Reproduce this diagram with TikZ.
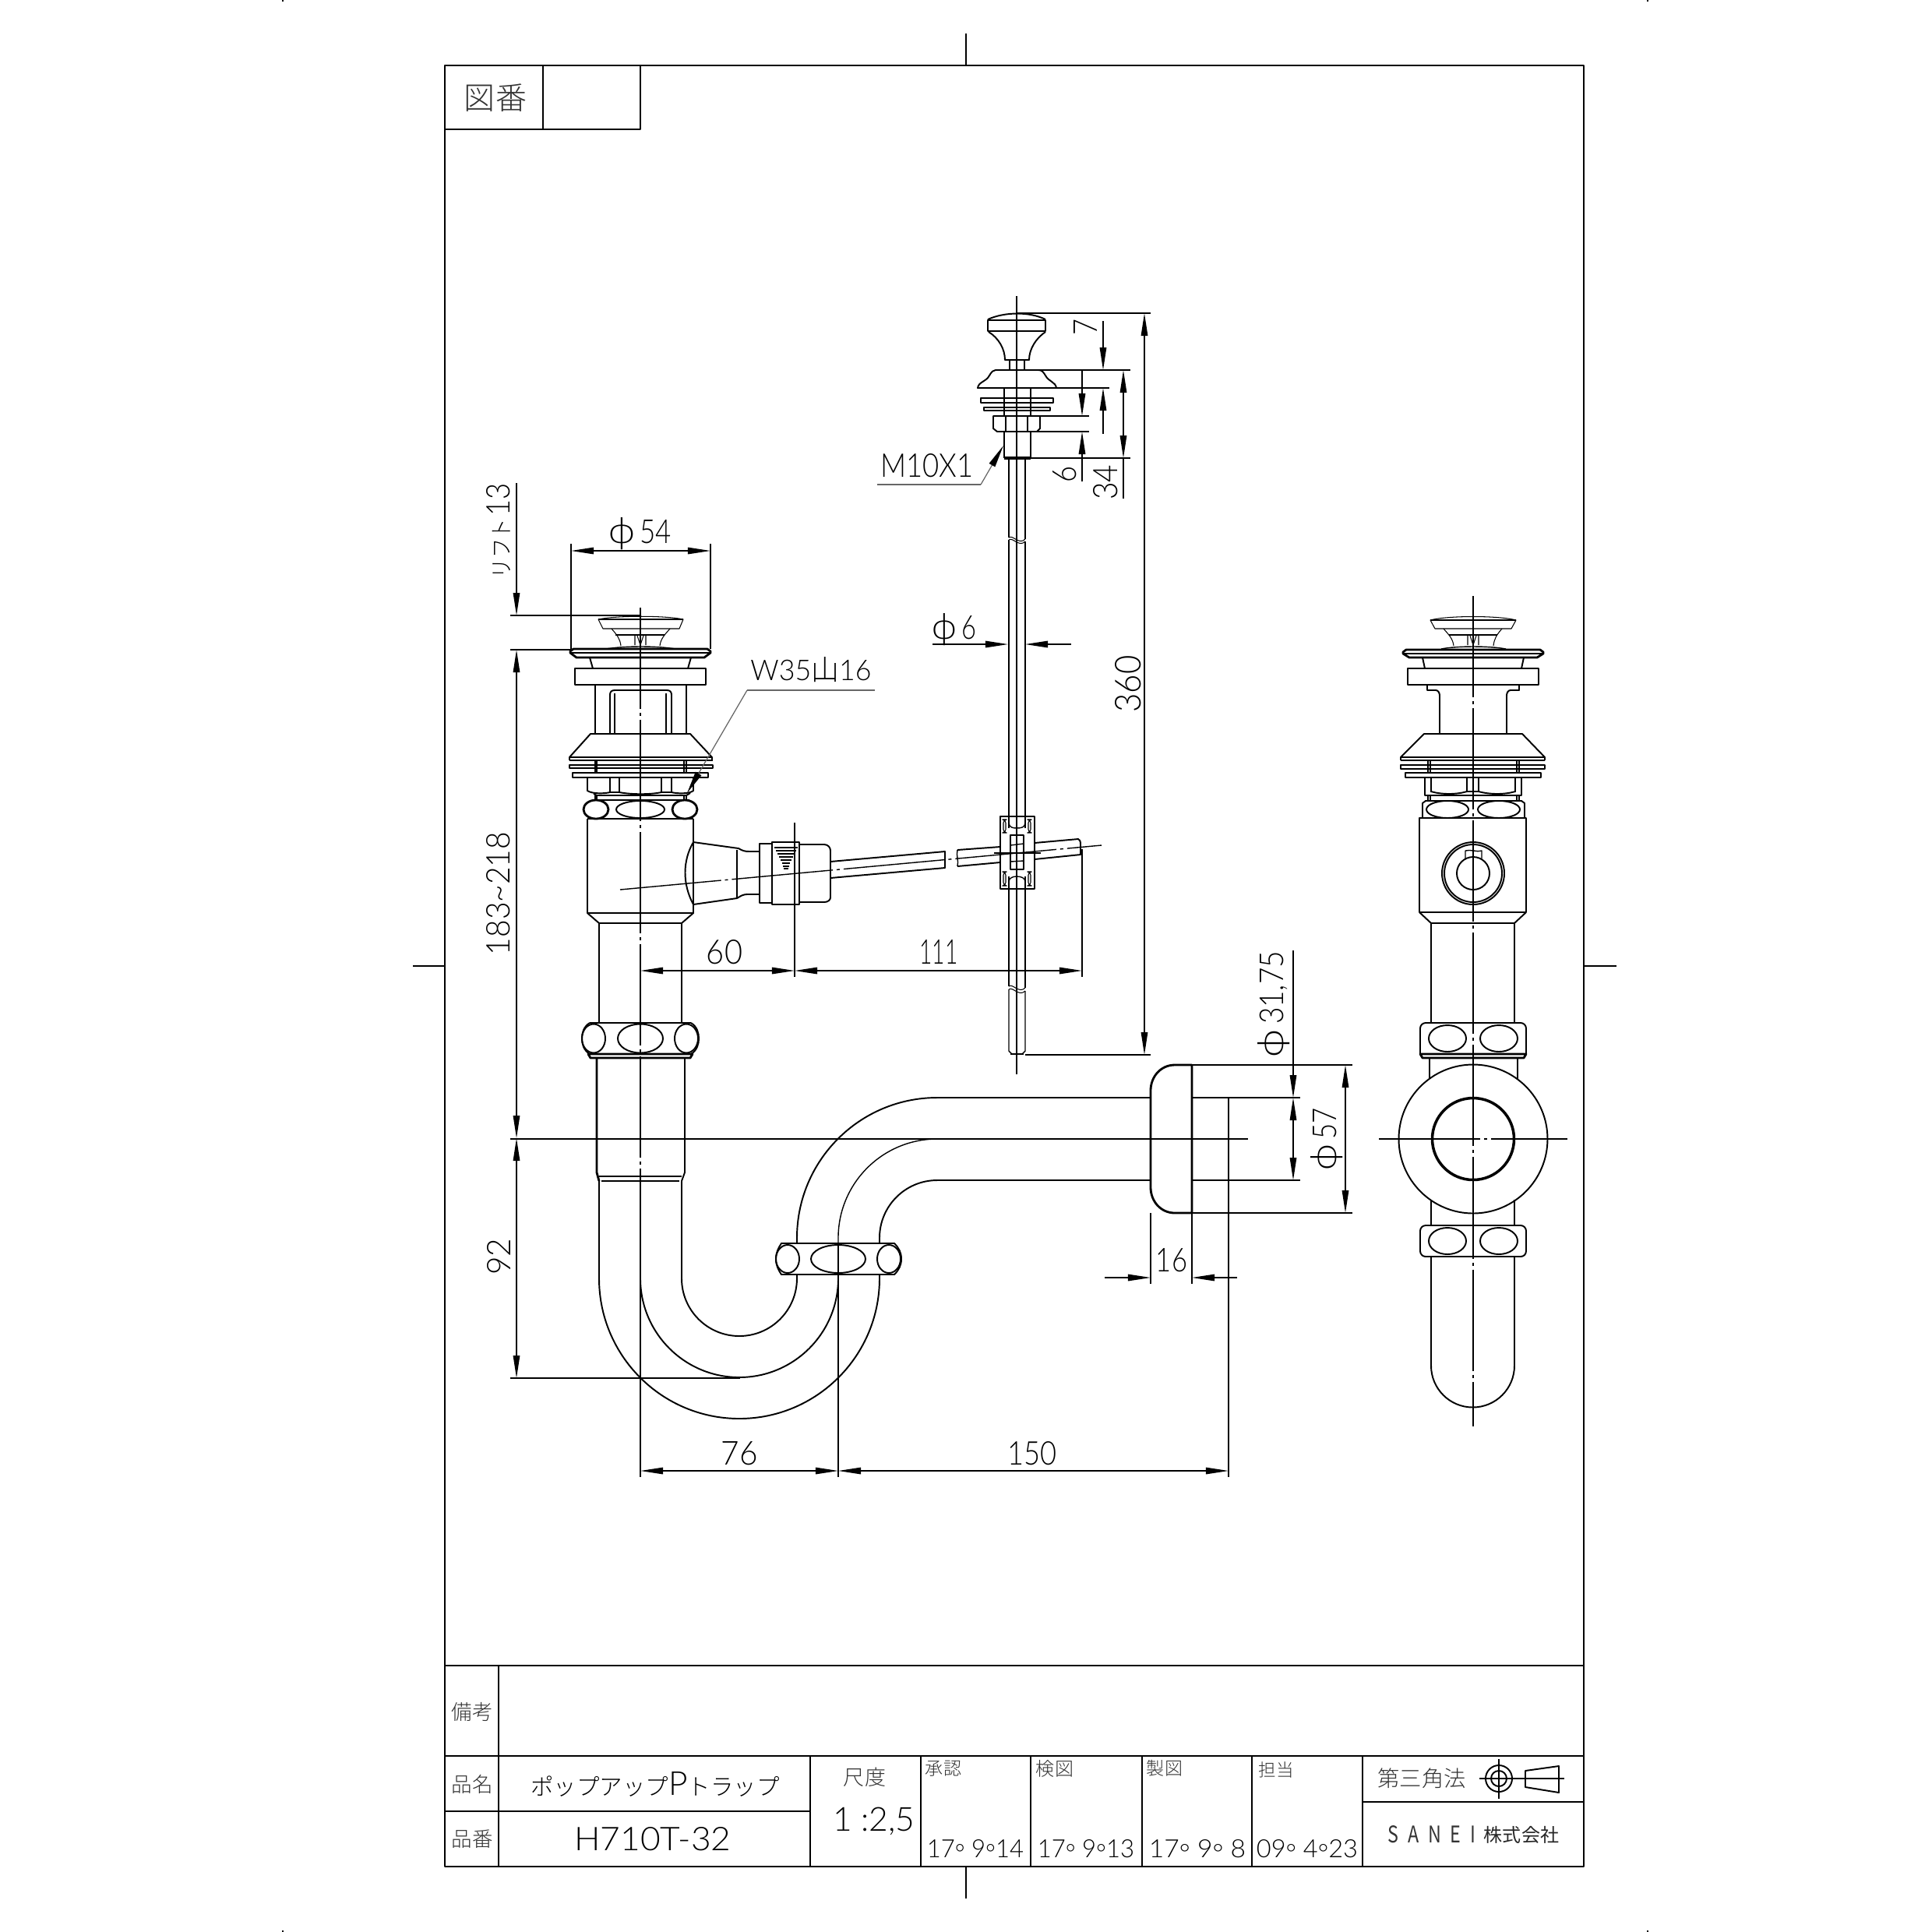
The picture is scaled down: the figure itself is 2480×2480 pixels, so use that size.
\documentclass[tikz,border=0pt]{standalone}
\usepackage{graphicx}
\usepackage{fontspec}
\usetikzlibrary{arrows.meta}
\setmainfont{Lato Light}
\newfontfamily\cjk{Noto Sans CJK JP Light}
\newfontfamily\cjkr{Noto Sans CJK JP}
\newcommand\tw[2]{\resizebox{#1cm}{!}{#2}}
\newcommand\twh[3]{\resizebox{#1cm}{#2cm}{#3}}
\newcommand\jp[1]{{\cjk #1}}
\newcommand\dia{\scalebox{1.4}[1.1]{ϕ}}
\newcommand\dg{\raisebox{-0.35ex}{°}}
\tikzset{
 tk/.style={line width=0.8pt,line join=round},
 md/.style={line width=0.55pt,line join=round},
 th/.style={line width=0.4pt,line join=round},
 hl/.style={line width=0.3pt,line join=round},
 ax/.style={line width=0.4pt,dash pattern=on 1.3cm off 0.05cm on 0.04cm off 0.05cm},
 dm/.style={line width=0.4pt,>={Triangle[length=0.29cm,width=0.085cm]}},
 ld/.style={line width=0.35pt,draw=black!60,>={Triangle[length=0.29cm,width=0.085cm,color=black]}},
 lb/.style={inner sep=0pt,outer sep=0pt},
 jl/.style={inner sep=0pt,outer sep=0pt,text=black!80},
}
\begin{document}
\begin{tikzpicture}[x=0.01cm,y=-0.01cm]
\useasboundingbox (0,0) rectangle (2480,2480);
% ---------- sheet frame
\draw[tk] (571,84) rectangle (2033,2396);
\draw[tk] (571,2138) -- (2033,2138);
\draw[md] (571,166) -- (822,166) -- (822,84);
\draw[th] (697,84) -- (697,166);
\draw[th] (1240,43) -- (1240,84);
\draw[th] (1240,2396) -- (1240,2437);
\draw[th] (530,1240) -- (571,1240);
\draw[th] (2033,1240) -- (2075,1240);
\draw[th] (363,0) -- (363,2) (2115,0) -- (2115,2) (363,2478) -- (363,2480) (2115,2478) -- (2115,2480);
% title block
\draw[md] (571,2254) -- (2033,2254);
\draw[th] (640,2138) -- (640,2396);
\draw[md] (640,2325) -- (1040,2325);
\draw[th] (571,2325) -- (640,2325);
\draw[md] (1040,2254) -- (1040,2396);
\draw[th] (1182,2254) -- (1182,2396);
\draw[md] (1323,2254) -- (1323,2396) (1466,2254) -- (1466,2396) (1607,2254) -- (1607,2396) (1749,2254) -- (1749,2396);
\draw[md] (1749,2313) -- (2033,2313);
\node[jl] (zuban) at (636,126) {\tw{0.80}{\jp{図番}}};
\node[jl] (biko) at (606,2197) {\tw{0.53}{\jp{備考}}};
\node[jl] (hinmei) at (606,2290) {\tw{0.53}{\jp{品名}}};
\node[jl] (hinban) at (606,2361) {\tw{0.53}{\jp{品番}}};
\node[lb] (name) at (841,2290) {\tw{3.19}{\jp{ポップアップ}{\Large P}\jp{トラップ}}};
\node[lb] (num) at (838,2361) {\twh{2.01}{0.30}{H710T-32}};
\node[jl] (shaku) at (1110,2281) {\tw{0.54}{\jp{尺度}}};
\node[lb] (scale) at (1122,2338) {\tw{1.05}{1 :2,5}};
\node[jl] (sho) at (1211,2270) {\tw{0.46}{\jp{承認}}};
\node[jl] (ken) at (1354,2270) {\tw{0.48}{\jp{検図}}};
\node[jl] (sei) at (1495,2270) {\tw{0.46}{\jp{製図}}};
\node[jl] (tan) at (1638,2272) {\tw{0.45}{\jp{担当}}};
\node[lb] (d1) at (1252,2376) {\twh{1.24}{0.23}{17\dg\ 9\dg14}};
\node[lb] (d2) at (1394,2376) {\twh{1.24}{0.23}{17\dg\ 9\dg13}};
\node[lb] (d3) at (1537,2376) {\twh{1.24}{0.23}{17\dg\ 9\dg\ 8}};
\node[lb] (d4) at (1678,2376) {\twh{1.30}{0.23}{09\dg\ 4\dg23}};
\node[jl] (third) at (1825,2283) {\tw{1.13}{\jp{第三角法}}};
\node[lb,text=black!80] (sanei) at (1838,2355) {\twh{1.12}{0.22}{\cjkr S\hspace{0.5em}A\hspace{0.5em}N\hspace{0.5em}E\hspace{0.5em}I}};
\node[lb,text=black!85] (kk) at (1953,2355) {\tw{0.96}{{\cjkr 株式会社}}};
% third angle symbol
\draw[th] (1899,2283) -- (2008,2283) (1924,2258) -- (1924,2309);
\draw[md] (1924,2283) circle (17) (1924,2283) circle (10);
\draw[md] (1958,2273) -- (2001,2267) -- (2001,2301) -- (1958,2294) -- cycle;
% ---------- MAIN VIEW: waste assembly
\draw[ax] (822,780) -- (822,1516);
\draw[th] (822,1516) -- (822,1896);
% stopper
\draw[hl] (768,795) .. controls (790,790) and (855,790) .. (877,795) -- (872,807) -- (774,807) -- cycle;
\draw[hl] (768,795) -- (877,795);
\draw[hl] (785,807) .. controls (792,815) and (796,820) .. (797,829);
\draw[hl] (860,807) .. controls (853,815) and (848,820) .. (847,829);
\draw[hl] (790,815) -- (853,815);
\draw[hl] (815,815) -- (815,828) (829,815) -- (829,828) (818,816) -- (822,828) -- (826,816);
% flange
\draw[tk] (736,833) -- (908,833) -- (912,836) -- (912,838) -- (904,844) -- (740,844) -- (732,838) -- (732,836) -- cycle;
\draw[md] (733,838) -- (911,838);
\draw[th] (778,833) .. controls (800,829) and (845,829) .. (867,833);
\draw[md] (757,844) -- (761,858) (887,844) -- (883,858);
\draw[tk] (738,858) rectangle (906,879);
% body under stopper
\draw[tk] (764,879) -- (764,942);
\draw[md] (881,879) -- (881,942);
\draw[md] (783,942) -- (783,892) .. controls (783,888) and (785,886) .. (789,886) -- (856,886) .. controls (860,886) and (862,888) .. (862,892) -- (862,942);
\draw[md] (789,942) -- (789,890) (855,942) -- (855,890);
% cone and plates
\draw[md] (758,942) -- (886,942) -- (914,972) -- (731,972) -- cycle;
\draw[tk] (731,976) -- (915,976);
\draw[md] (731,972) -- (731,976) (914,972) -- (914,976);
\draw[md] (731,982) rectangle (915,986);
\draw[md] (735,992) rectangle (909,998);
\draw[th] (764,976) -- (764,992) (766,976) -- (766,992) (878,976) -- (878,992) (881,976) -- (881,992);
% hex nut
\draw[md] (754,998) -- (754,1015) .. controls (760,1019) and (775,1019) .. (783,1017) -- (795,1017) .. controls (810,1020) and (835,1020) .. (849,1017) -- (862,1017) .. controls (870,1019) and (885,1019) .. (890,1015) -- (890,998);
\draw[md] (783,998) -- (783,1017) (795,998) -- (795,1017) (849,998) -- (849,1017) (862,998) -- (862,1017);
\draw[md] (762,1019) -- (766,1021) -- (881,1021) -- (886,1018);
\draw[th] (764,1021) -- (764,1027) (766,1021) -- (766,1027) (878,1021) -- (878,1027) (881,1021) -- (881,1027);
% upper coupling
\draw[md] (760,1027) -- (885,1027);
\draw[tk] (754,1051) -- (890,1051);
\draw[tk] (765,1039) ellipse (16 and 12);
\draw[md] (822,1039) ellipse (31 and 11);
\draw[tk] (879,1039) ellipse (16 and 12);
% tee body
\draw[md] (754,1051) -- (754,1172) -- (769,1185) -- (875,1185) -- (890,1172) -- (890,1051);
\draw[th] (754,1172) -- (890,1172);
% side branch
\draw[md] (890,1081) .. controls (876,1105) and (876,1135) .. (890,1161);
\draw[md] (890,1081) -- (948,1089) .. controls (953,1092) and (956,1093) .. (962,1093) -- (975,1093);
\draw[md] (890,1161) -- (946,1153) .. controls (951,1150) and (954,1148) .. (959,1148) -- (975,1148);
\draw[md] (946,1091) -- (946,1153);
\draw[tk] (975,1083) rectangle (991,1159);
\draw[tk] (991,1081) rectangle (1026,1161);
\draw[hl] (994,1088) -- (1024,1088) (996,1092) -- (1022,1092) (998,1096) -- (1020,1096) (1000,1100) -- (1018,1100) (1002,1104) -- (1016,1104) (1004,1108) -- (1014,1108) (1005,1112) -- (1013,1112) (1006,1115) -- (1012,1115);
\draw[md] (1026,1084) -- (1058,1084) .. controls (1063,1084) and (1066,1088) .. (1066,1092) -- (1066,1152) .. controls (1066,1155) and (1063,1158) .. (1058,1158) -- (1026,1158);
% lift rod (inclined)
\draw[md] (1066,1106) -- (1213,1093) -- (1213,1114) -- (1066,1127);
\draw[md] (1229,1091) -- (1284,1087) (1229,1112) -- (1284,1107);
\draw[th] (1229,1091) .. controls (1227,1098) and (1231,1105) .. (1229,1112);
\draw[md] (1328,1082) -- (1384,1077) .. controls (1387,1079) and (1387,1081) .. (1387,1083) -- (1387,1097) -- (1328,1103);
\draw[ax] (796,1142) -- (1414,1085);
% lower pipe
\draw[md] (769,1185) -- (769,1313);
\draw[th] (875,1185) -- (875,1313);
\draw[md] (757,1313) -- (887,1313);
\draw[md] (757,1313) .. controls (749,1318) and (747,1326) .. (747,1333) .. controls (747,1340) and (749,1348) .. (757,1353);
\draw[md] (887,1313) .. controls (895,1318) and (897,1326) .. (897,1333) .. controls (897,1340) and (895,1348) .. (887,1353);
\draw[md] (762,1333) ellipse (15 and 18.5);
\draw[md] (822,1333) ellipse (29 and 18.5);
\draw[md] (881,1333) ellipse (15 and 18.5);
\draw[tk] (755,1353) -- (889,1353) -- (886,1358) -- (758,1358) -- cycle;
\draw[tk] (766,1358) -- (766,1505) -- (769,1516);
\draw[md] (879,1358) -- (879,1505) -- (875,1516);
\draw[tk] (769,1510) -- (875,1510);
\draw[th] (772,1516) -- (872,1516);
% P trap
\draw[md] (769,1516) -- (769,1641) arc (180:0:180) -- (1129,1636);
\draw[md] (822,1516) -- (822,1641) arc (180:0:127) -- (1076,1636);
\draw[md] (875,1516) -- (875,1641) arc (180:0:74) -- (1023,1636);
\draw[md] (1023,1596) -- (1023,1589) arc (180:270:180) -- (1477,1409);
\draw[th] (1076,1596) -- (1076,1589) arc (180:270:127) -- (1477,1462);
\draw[md] (1129,1596) -- (1129,1589) arc (180:270:74) -- (1477,1515);
% trap nut
\draw[md] (1003,1596) -- (1148,1596) .. controls (1154,1602) and (1157,1608) .. (1157,1616) .. controls (1157,1624) and (1154,1630) .. (1148,1636) -- (1003,1636) .. controls (999,1630) and (996,1624) .. (996,1616) .. controls (996,1608) and (999,1602) .. (1003,1596) -- cycle;
\draw[md] (1011,1616) ellipse (15 and 18);
\draw[md] (1076,1616) ellipse (35 and 18);
\draw[md] (1141,1616) ellipse (15 and 18);
\draw[md] (1076,1596) -- (1076,1636);
% wall flange
\draw[tk] (1530,1367) -- (1508,1367) .. controls (1490,1367) and (1477,1382) .. (1477,1400) -- (1477,1524) .. controls (1477,1542) and (1490,1557) .. (1508,1557) -- (1530,1557) -- cycle;
\draw[tk] (1530,1409) -- (1577,1409) -- (1577,1515) -- (1530,1515);
\draw[md] (1477,1462) -- (1588,1462);
% ---------- dimensions, main view
\draw[th] (733,698) -- (733,833) (912,698) -- (912,833);
\draw[dm,<->] (733,707) -- (912,707);
\node[lb] (d54) at (822,685) {\twh{0.80}{0.33}{\dia\,54}};
\draw[th] (655,790) -- (822,790) (655,834) -- (733,834);
\draw[dm,->] (663,620) -- (663,790);
\draw[dm,<->] (663,834) -- (663,1461);
\draw[dm,<->] (663,1461) -- (663,1769);
\draw[th] (655,1462) -- (1602,1462);
\draw[th] (655,1769) -- (950,1769);
\node[lb,rotate=90] (lift) at (640,681) {\twh{1.22}{0.30}{\jp{\normalsize リフト}\,{\Large 13}}};
\node[lb,rotate=90] (d183) at (640,1147) {\twh{1.58}{0.30}{183\textasciitilde218}};
\node[lb,rotate=90] (d92) at (640,1613) {\twh{0.47}{0.30}{92}};
\draw[th] (1020,1056) -- (1020,1254) (1389,1090) -- (1389,1254);
\draw[dm,<->] (822,1246) -- (1020,1246);
\draw[dm,<->] (1020,1246) -- (1389,1246);
\node[lb] (d60) at (930,1222) {\twh{0.46}{0.31}{60}};
\node[lb] (d111) at (1205,1222) {\twh{0.49}{0.31}{111}};
\draw[th] (1076,1636) -- (1076,1896) (1577,1515) -- (1577,1896);
\draw[dm,<->] (822,1888) -- (1076,1888);
\draw[dm,<->] (1076,1888) -- (1577,1888);
\node[lb] (d76) at (949,1866) {\twh{0.47}{0.30}{76}};
\node[lb] (d150) at (1325,1866) {\twh{0.63}{0.30}{150}};
\draw[th] (1477,1557) -- (1477,1648) (1530,1557) -- (1530,1648);
\draw[dm,->] (1418,1640) -- (1477,1640);
\draw[dm,->] (1588,1640) -- (1530,1640);
\node[lb] (d16) at (1504,1618) {\twh{0.40}{0.30}{16}};
\draw[th] (1530,1367) -- (1736,1367) (1530,1557) -- (1736,1557) (1577,1409) -- (1669,1409) (1577,1515) -- (1669,1515);
\draw[dm,<->] (1727,1367) -- (1727,1557);
\draw[dm,->] (1660,1220) -- (1660,1409);
\draw[dm,<->] (1660,1409) -- (1660,1515);
\node[lb,rotate=90] (d57) at (1703,1462) {\twh{0.80}{0.33}{\dia\,57}};
\node[lb,rotate=90] (d3175) at (1635,1289) {\twh{1.36}{0.33}{\dia\,31,75}};
\draw[ld] (1123,886) -- (959,886);
\draw[ld,->] (959,886) -- (882,1018);
\node[lb] (w35) at (1041,860) {\twh{1.55}{0.30}{W35\jp{山}16}};
% ---------- POP-UP ROD
\draw[th] (1305,380) -- (1305,1379);
\draw[md] (1268,410) .. controls (1290,400) and (1322,400) .. (1342,410);
\draw[tk] (1268,411) rectangle (1342,425);
\draw[md] (1269,426) .. controls (1282,434) and (1290,448) .. (1290,462) -- (1321,462) .. controls (1321,448) and (1330,434) .. (1342,426);
\draw[th] (1296,462) -- (1296,475) (1315,462) -- (1315,475);
\draw[md] (1255,498) .. controls (1256,490) and (1266,490) .. (1270,482) .. controls (1273,477) and (1275,475) .. (1278,475) -- (1333,475) .. controls (1337,475) and (1339,477) .. (1342,482) .. controls (1346,490) and (1355,490) .. (1356,498) -- cycle;
\draw[th] (1289,498) -- (1289,534) (1323,498) -- (1323,534);
\draw[tk] (1259,511) rectangle (1352,517);
\draw[md] (1263,523) rectangle (1348,527);
\draw[md] (1275,534) -- (1335,534) -- (1335,550) -- (1331,554) -- (1280,554) -- (1275,550) -- cycle;
\draw[th] (1291,534) -- (1291,554) (1319,534) -- (1319,554);
\draw[md] (1289,554) -- (1289,588) (1323,554) -- (1323,588);
\draw[line width=1.0pt] (1289,588) -- (1323,588);
% rod
\draw[th] (1295,588) -- (1295,690);
\draw[th] (1316,588) -- (1316,692);
\draw[hl] (1295,690) .. controls (1300,686) and (1308,700) .. (1316,692);
\draw[hl] (1295,693) .. controls (1300,689) and (1308,703) .. (1316,695);
\draw[th] (1295,693) -- (1295,1063) (1316,695) -- (1316,1063);
\draw[th] (1295,1125) -- (1295,1266) (1316,1125) -- (1316,1268);
\draw[hl] (1295,1266) .. controls (1300,1262) and (1308,1276) .. (1316,1268);
\draw[hl] (1295,1270) .. controls (1300,1266) and (1308,1280) .. (1316,1272);
\draw[th] (1295,1270) -- (1295,1349) -- (1299,1353) -- (1312,1353) -- (1316,1349) -- (1316,1272);
\draw[tk] (1297,1353) -- (1314,1353);
% clamp
\draw[md] (1284,1048) rectangle (1328,1141);
\draw[th] (1295,1048) -- (1295,1056) .. controls (1295,1062) and (1300,1063) .. (1305,1063) .. controls (1311,1063) and (1316,1062) .. (1316,1056) -- (1316,1048);
\draw[th] (1295,1141) -- (1295,1132) .. controls (1295,1127) and (1300,1125) .. (1305,1125) .. controls (1311,1125) and (1316,1127) .. (1316,1132) -- (1316,1141);
\draw[hl,rounded corners=1.2] (1288,1052) rectangle (1291,1069) (1320,1052) rectangle (1323,1069) (1288,1119) rectangle (1291,1137) (1320,1119) rectangle (1323,1137);
\draw[tk] (1297,1072) rectangle (1314,1116);
\draw[th] (1297,1085) -- (1314,1083) (1297,1106) -- (1314,1105);
\draw[th] (1276,1095) -- (1336,1095);
% rod dims
\draw[th] (1305,402) -- (1477,402);
\draw[th] (1316,1354) -- (1477,1354);
\draw[dm,<->] (1469,402) -- (1469,1354);
\node[lb,rotate=90] (d360) at (1448,878) {\twh{0.73}{0.33}{360}};
\draw[th] (1333,475) -- (1451,475) (1323,588) -- (1451,588);
\draw[dm,<->] (1442,475) -- (1442,588);
\draw[dm] (1442,588) -- (1442,640);
\node[lb,rotate=90] (d34) at (1419,619) {\twh{0.45}{0.31}{34}};
\draw[th] (1335,534) -- (1398,534) (1331,554) -- (1398,554);
\draw[dm,->] (1389,475) -- (1389,534);
\draw[dm,->] (1389,618) -- (1389,554);
\node[lb,rotate=90] (d6b) at (1367,609) {\twh{0.21}{0.30}{6}};
\draw[th] (1356,498) -- (1424,498);
\draw[dm,->] (1416,412) -- (1416,475);
\draw[dm,->] (1416,557) -- (1416,498);
\node[lb,rotate=90] (d7) at (1393,420) {\twh{0.21}{0.30}{7}};
\draw[ld] (1126,622) -- (1259,622);
\draw[ld,->] (1259,622) -- (1288,572);
\node[lb] (m10) at (1190,598) {\twh{1.19}{0.30}{M10X1}};
\draw[dm,->] (1197,827) -- (1294,827);
\draw[dm,->] (1375,827) -- (1316,827);
\node[lb] (d6) at (1225,808) {\twh{0.56}{0.33}{\dia\,6}};
% ---------- RIGHT VIEW
\draw[ax] (1891,765) -- (1891,1831);
\draw[ax] (1770,1462) -- (2012,1462);
\draw[hl] (1836,796) .. controls (1858,790) and (1924,790) .. (1946,796) -- (1940,807) -- (1842,807) -- cycle;
\draw[hl] (1836,796) -- (1946,796);
\draw[hl] (1853,807) .. controls (1860,815) and (1865,820) .. (1866,829);
\draw[hl] (1928,807) .. controls (1921,815) and (1918,820) .. (1917,829);
\draw[hl] (1860,815) -- (1922,815);
\draw[hl] (1884,815) -- (1884,828) (1898,815) -- (1898,828) (1887,816) -- (1891,828) -- (1895,816);
\draw[tk] (1805,834) -- (1977,834) -- (1981,837) -- (1981,839) -- (1973,844) -- (1809,844) -- (1801,839) -- (1801,837) -- cycle;
\draw[md] (1802,839) -- (1980,839);
\draw[th] (1850,833) .. controls (1870,829) and (1912,829) .. (1933,833);
\draw[md] (1826,844) -- (1829,858) (1956,844) -- (1953,858);
\draw[tk] (1807,858) rectangle (1975,879);
\draw[md] (1832,879) -- (1832,886) -- (1843,886) .. controls (1846,886) and (1848,889) .. (1848,893) -- (1848,942);
\draw[md] (1950,879) -- (1950,886) -- (1939,886) .. controls (1936,886) and (1934,889) .. (1934,893) -- (1934,942);
\draw[md] (1828,942) -- (1954,942) -- (1983,972) -- (1798,972) -- cycle;
\draw[tk] (1798,976) -- (1983,976);
\draw[md] (1798,972) -- (1798,976) (1983,972) -- (1983,976);
\draw[md] (1798,982) rectangle (1983,987);
\draw[md] (1804,992) rectangle (1978,998);
\draw[th] (1833,977) -- (1833,992) (1836,977) -- (1836,992) (1947,977) -- (1947,992) (1950,977) -- (1950,992);
\draw[md] (1829,998) -- (1829,1021) -- (1953,1021) -- (1953,998);
\draw[md] (1837,998) -- (1837,1017) (1883,998) -- (1883,1017) (1898,998) -- (1898,1017) (1945,998) -- (1945,1017);
\draw[md] (1837,1016) .. controls (1850,1020) and (1870,1020) .. (1883,1016) -- (1898,1016) .. controls (1912,1020) and (1932,1020) .. (1945,1016);
\draw[th] (1833,1021) -- (1833,1028) (1836,1021) -- (1836,1028) (1947,1021) -- (1947,1028) (1950,1021) -- (1950,1028);
\draw[md] (1826,1050) -- (1826,1031) -- (1830,1028) -- (1953,1028) -- (1957,1031) -- (1957,1050);
\draw[md] (1858,1039) ellipse (27 and 11);
\draw[md] (1924,1039) ellipse (27 and 11);
\draw[md] (1822,1050) rectangle (1959,1171);
\draw[md] (1822,1171) -- (1837,1185) -- (1944,1185) -- (1959,1171);
\draw[md] (1891,1121) circle (40) (1891,1121) circle (37) (1891,1121) circle (21);
\draw[th] (1881,1102) -- (1881,1092) .. controls (1888,1090) and (1894,1094) .. (1902,1092) -- (1902,1102);
\draw[th] (1837,1185) -- (1837,1313) (1944,1185) -- (1944,1313);
\draw[md,rounded corners=2] (1823,1353) -- (1823,1313) -- (1959,1313) -- (1959,1353);
\draw[tk] (1823,1353) -- (1959,1353) -- (1956,1358) -- (1826,1358) -- cycle;
\draw[md] (1858,1333) ellipse (24 and 17) (1924,1333) ellipse (24 and 17);
\draw[md] (1835,1358) -- (1835,1385) (1948,1358) -- (1948,1385);
\draw[md] (1891,1462) circle (95.5) (1891,1462) circle (53.3) (1891,1462) circle (51.7);
\draw[md] (1837,1540) -- (1837,1573) (1944,1540) -- (1944,1573);
\draw[md,rounded corners=2] (1823,1573) rectangle (1959,1613);
\draw[md] (1858,1593) ellipse (24 and 17) (1924,1593) ellipse (24 and 17);
\draw[md] (1837,1613) -- (1837,1753) arc (180:0:53.5) -- (1944,1613);
\end{tikzpicture}
\end{document}
